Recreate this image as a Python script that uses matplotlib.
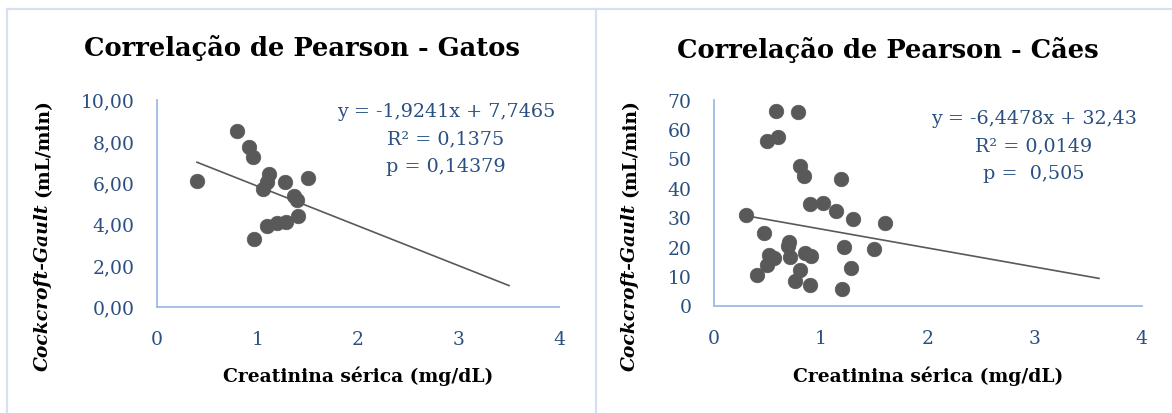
import matplotlib
matplotlib.use("Agg")
import matplotlib.pyplot as plt
from matplotlib.lines import Line2D
import numpy as np

# ---- data ----
cats_x = [0.80, 0.92, 0.96, 0.40, 1.12, 1.10, 1.06, 1.27, 1.50, 1.36, 1.39, 1.40, 1.28, 1.20, 1.10, 0.97]
cats_y = [8.50, 7.69, 7.25, 6.09, 6.41, 6.00, 5.69, 6.04, 6.19, 5.35, 5.16, 4.38, 4.10, 4.02, 3.91, 3.24]
cats_slope, cats_intercept = -1.9241, 7.7465
cats_trend_x = [0.40, 3.50]

dogs_x = [0.58, 0.79, 0.60, 0.50, 0.80, 0.84, 1.19, 0.90, 1.02, 1.14, 1.30, 1.60, 0.30, 0.47, 0.70,
          0.69, 1.22, 1.50, 0.51, 0.56, 0.71, 0.85, 0.91, 0.50, 0.80, 1.28, 0.40, 0.76, 0.90, 1.20]
dogs_y = [66.2, 65.6, 57.1, 55.8, 47.3, 44.1, 43.0, 34.5, 34.9, 32.1, 29.4, 27.9, 30.9, 24.5, 21.7,
          20.1, 19.8, 19.1, 17.3, 16.0, 16.4, 17.8, 16.7, 13.9, 12.2, 12.6, 10.5, 8.2, 7.1, 5.6]
dogs_slope, dogs_intercept = -6.4478, 32.43
dogs_trend_x = [0.30, 3.60]

x_ticks = [0, 1, 2, 3, 4]
cats_y_ticks = [0, 2, 4, 6, 8, 10]
cats_y_ticklabels = ["0,00", "2,00", "4,00", "6,00", "8,00", "10,00"]
dogs_y_ticks = [0, 10, 20, 30, 40, 50, 60, 70]
dogs_y_ticklabels = ["0", "10", "20", "30", "40", "50", "60", "70"]

cats_title = "Correlação de Pearson - Gatos"
dogs_title = "Correlação de Pearson - Cães"
cats_eq = ["y = -1,9241x + 7,7465", "R² = 0,1375", "p = 0,14379"]
dogs_eq = ["y = -6,4478x + 32,43", "R² = 0,0149", "p =  0,505"]
x_label = "Creatinina sérica (mg/dL)"
y_label_italic = "Cockcroft-Gault"
y_label_rest = "(mL/min)"

# ---- style ----
W, H = 1172, 414
BLUE = "#2a4f80"
AXIS = "#9dbbe6"
GRAY = "#595959"
BORDER = "#d6e0f0"
FONT = "DejaVu Serif"
plt.rcParams["font.family"] = FONT

fig = plt.figure(figsize=(W / 100, H / 100), dpi=100)
fig.patch.set_facecolor("white")


def fx(px):
    return px / W


def fy(py):
    return 1 - py / H


# panel borders
for (x0, y0, x1, y1) in [(7, 10, W, 10), (7, 10, 7, H), (596, 10, 596, H)]:
    fig.add_artist(Line2D([fx(x0), fx(x1)], [fy(y0), fy(y1)], color=BORDER, lw=1.6,
                          transform=fig.transFigure))


def panel(ax_px, xs, ys, slope, intercept, trend_x, yticks, yticklabels, ymax,
          title, title_xy, eq, eq_xy, xlabel_xy, ylabel_xy):
    l, r, t, b = ax_px
    ax = fig.add_axes([fx(l), fy(b), fx(r) - fx(l), fy(t) - fy(b)])
    ax.scatter(xs, ys, s=110, color=GRAY, edgecolors=GRAY, linewidths=0.5, zorder=3, clip_on=False)
    tx = np.array(trend_x)
    ax.plot(tx, slope * tx + intercept, color=GRAY, lw=1.2, zorder=2)
    ax.set_xlim(0, 4)
    ax.set_ylim(0, ymax)
    ax.set_xticks(x_ticks)
    ax.set_xticklabels([str(v) for v in x_ticks])
    ax.set_yticks(yticks)
    ax.set_yticklabels(yticklabels)
    ax.tick_params(axis="x", length=0, labelsize=13.5, labelcolor=BLUE, pad=17)
    ax.tick_params(axis="y", length=0, labelsize=13.5, labelcolor=BLUE, pad=16)
    for s in ["top", "right"]:
        ax.spines[s].set_visible(False)
    for s in ["left", "bottom"]:
        ax.spines[s].set_color(AXIS)
        ax.spines[s].set_linewidth(1.3)
    ax.patch.set_alpha(0)

    fig.text(fx(title_xy[0]), fy(title_xy[1]), title, fontsize=18.5, fontweight="bold",
             ha="center", va="center", color="black")
    ex, ey = eq_xy
    for i, line in enumerate(eq):
        fig.text(fx(ex), fy(ey + i * 27.5), line, fontsize=13.8, color=BLUE,
                 ha="center", va="center")
    fig.text(fx(xlabel_xy[0]), fy(xlabel_xy[1]), x_label, fontsize=13.5, fontweight="bold",
             ha="center", va="center", color="black")

    # y label: italic bold part + bold part, stacked along rotated direction
    renderer = fig.canvas.get_renderer()
    t1 = fig.text(0, 0, y_label_italic, fontsize=13.5, fontweight="bold", style="italic",
                  rotation=90, ha="center", va="bottom", color="black")
    t2 = fig.text(0, 0, y_label_rest, fontsize=13.5, fontweight="bold",
                  rotation=90, ha="center", va="bottom", color="black")
    h1 = t1.get_window_extent(renderer).height
    h2 = t2.get_window_extent(renderer).height
    gap = 6
    total = h1 + gap + h2
    cx, cy = ylabel_xy
    bottom_px = cy + total / 2  # in image coords (down = larger)
    t1.set_position((fx(cx), fy(bottom_px)))
    t2.set_position((fx(cx), fy(bottom_px - h1 - gap)))
    return ax


panel((156.7, 559.3, 100.7, 307.5), cats_x, cats_y, cats_slope, cats_intercept, cats_trend_x,
      cats_y_ticks, cats_y_ticklabels, 10, cats_title, (302, 48), cats_eq, (446, 112),
      (358, 376), (43, 235))

panel((714, 1141.7, 100.5, 306.5), dogs_x, dogs_y, dogs_slope, dogs_intercept, dogs_trend_x,
      dogs_y_ticks, dogs_y_ticklabels, 70, dogs_title, (888, 50), dogs_eq, (1034, 119),
      (928, 376), (630, 235))

fig.savefig("out.png", dpi=100, facecolor="white")
